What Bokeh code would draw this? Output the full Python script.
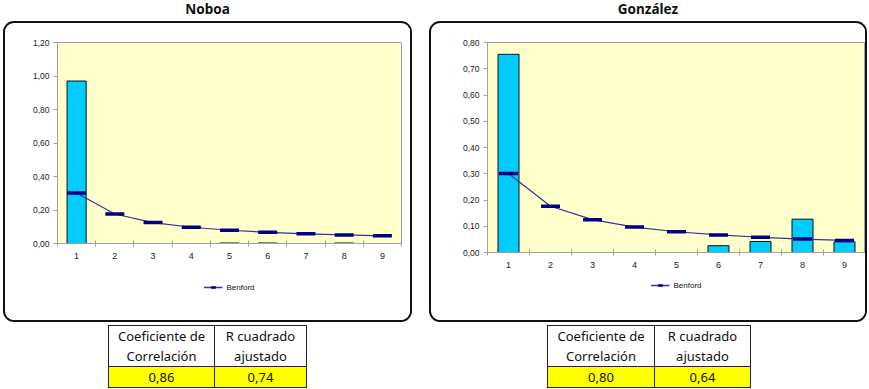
from bokeh.plotting import figure
from bokeh.models import (ColumnDataSource, FixedTicker, SingleIntervalTicker,
                          CustomJSTickFormatter, Legend, LegendItem, Div, Range1d)
from bokeh.layouts import row, column
from bokeh.embed import file_html
from bokeh.resources import INLINE

# ---- data ----
digits = [1, 2, 3, 4, 5, 6, 7, 8, 9]
benford = [0.301, 0.176, 0.125, 0.097, 0.079, 0.067, 0.058, 0.051, 0.046]
noboa = [0.97, 0.0, 0.0, 0.0, 0.003, 0.003, 0.0, 0.003, 0.0]
gonzalez = [0.755, 0.0, 0.0, 0.0, 0.0, 0.026, 0.042, 0.127, 0.041]
titles = ["Noboa", "González"]
legend_label = "Benford"
col_headers = ["Coeficiente de<br>Correlación", "R cuadrado<br>ajustado"]
correlation = [0.86, 0.80]
r2_adjusted = [0.74, 0.64]
y_max = [1.2, 0.8]
y_step = [0.2, 0.1]

FONT = "Noto Sans"
AXFONT = "Liberation Sans"
LINE_COLOR = "#333399"
NAN = float("nan")


def make_chart(values, ymax, ystep, width, height, bl, br, bb):
    p = figure(width=width, height=height, x_range=Range1d(0.5, 9.5),
               y_range=Range1d(0, ymax * 1.000001), output_backend="svg",
               toolbar_location=None, min_border_left=bl, min_border_right=br,
               min_border_top=19, min_border_bottom=bb,
               background_fill_color="#FFFFCC", border_fill_color="white",
               outline_line_color="#A0A0A0", outline_line_width=1)
    p.grid.visible = False
    src = ColumnDataSource(dict(x=digits, top=values, benford=benford))
    p.vbar(x="x", top="top", bottom=0, width=0.5, fill_color="#00CCFF",
           line_color="#111111", line_width=1, source=src)
    p.line("x", "benford", line_color=LINE_COLOR, line_width=1.2, source=src)
    p.scatter("x", "benford", marker="dash", size=19, line_color="#000080",
              line_width=3.5, source=src)

    xa = p.xaxis[0]
    xa.ticker = FixedTicker(ticks=digits, minor_ticks=[d - 0.5 for d in digits] + [digits[-1] + 0.5])
    xa.axis_line_color = "#A0A0A0"
    xa.major_tick_line_color = None
    xa.major_tick_out = 0
    xa.major_tick_in = 0
    xa.minor_tick_line_color = "#A0A0A0"
    xa.minor_tick_in = 3
    xa.minor_tick_out = 3
    xa.major_label_text_font = AXFONT
    xa.major_label_text_font_size = "9px"
    xa.major_label_text_color = "#222222"
    xa.major_label_standoff = 6

    ya = p.yaxis[0]
    ya.ticker = SingleIntervalTicker(interval=ystep)
    ya.formatter = CustomJSTickFormatter(code="return tick.toFixed(2).replace('.', ',');")
    ya.axis_line_color = "#A0A0A0"
    ya.major_tick_line_color = "#A0A0A0"
    ya.major_tick_out = 4
    ya.major_tick_in = 0
    ya.minor_tick_line_color = None
    ya.major_label_text_font = AXFONT
    ya.major_label_text_font_size = "8.5px"
    ya.major_label_text_color = "#222222"
    ya.major_label_standoff = 4
    return p


def make_legend(width, height, bl, br, top_margin):
    q = figure(width=width, height=height, x_range=Range1d(0, 1), y_range=Range1d(0, 1),
               output_backend="svg", toolbar_location=None, min_border_left=bl,
               min_border_right=br, min_border_top=0, min_border_bottom=0,
               outline_line_color=None, background_fill_color="white",
               border_fill_color="white")
    q.axis.visible = False
    q.grid.visible = False
    r = q.line(x=[NAN], y=[NAN], line_color=LINE_COLOR, line_width=1.5)
    rm = q.scatter(x=[NAN], y=[NAN], marker="dash", size=5, line_color="#000080",
                   line_width=2.5)
    leg = Legend(items=[LegendItem(label=legend_label, renderers=[r, rm])],
                 location="top_center", orientation="horizontal",
                 border_line_color=None, background_fill_alpha=0,
                 label_text_font=AXFONT, label_text_font_size="8px",
                 label_text_color="#111111", glyph_width=19, glyph_height=12,
                 label_height=12, label_standoff=4, padding=0, margin=top_margin,
                 spacing=0)
    q.add_layout(leg, "center")
    return q


def fmt(v):
    return f"{v:.2f}".replace(".", ",")


def make_table(i, width, left, w1, w2):
    cell = "border:1px solid #222;padding:0;text-align:center;"
    html = (
        f"<table style=\"border-collapse:collapse;margin-left:{left}px;margin-top:3px;"
        f"font-family:'{FONT}';font-size:13px;color:#111;\">"
        f"<tr><td style=\"{cell}width:{w1}px;height:41px;line-height:20px;background:#fff\">{col_headers[0]}</td>"
        f"<td style=\"{cell}width:{w2}px;height:41px;line-height:20px;background:#fff\">{col_headers[1]}</td></tr>"
        f"<tr><td style=\"{cell}height:20px;line-height:20px;background:#FFFF00\">{fmt(correlation[i])}</td>"
        f"<td style=\"{cell}height:20px;line-height:20px;background:#FFFF00\">{fmt(r2_adjusted[i])}</td></tr>"
        "</table>")
    return Div(text=html, width=width, height=66, margin=0)


def make_title(text, width):
    html = (f"<div style=\"width:{width}px;text-align:center;font-family:'{FONT}';"
            f"font-weight:bold;font-size:13.5px;line-height:19px;color:#111\">{text}</div>")
    return Div(text=html, width=width, height=21, margin=0)


def boxed(*items):
    return column(*items, spacing=0, margin=0,
                  styles={"border": "2px solid #111111", "border-radius": "11px",
                          "overflow": "hidden"})


left_chart = make_chart(noboa, y_max[0], y_step[0], 405, 250, 52, 9, 30)
left_leg = make_legend(405, 47, 52, 9, 8)
right_chart = make_chart(gonzalez, y_max[1], y_step[1], 434, 250, 56, 0, 21)
right_leg = make_legend(434, 47, 56, 0, 6)

left_col = column(make_title(titles[0], 409), boxed(left_chart, left_leg),
                  make_table(0, 409, 105, 106, 92), spacing=0)
right_col = column(make_title(titles[1], 438), boxed(right_chart, right_leg),
                   make_table(1, 438, 118, 107, 96), spacing=0)
page = row(left_col, right_col, spacing=17, margin=(0, 0, 0, 3))

open("out.html", "w").write(file_html(page, INLINE))
